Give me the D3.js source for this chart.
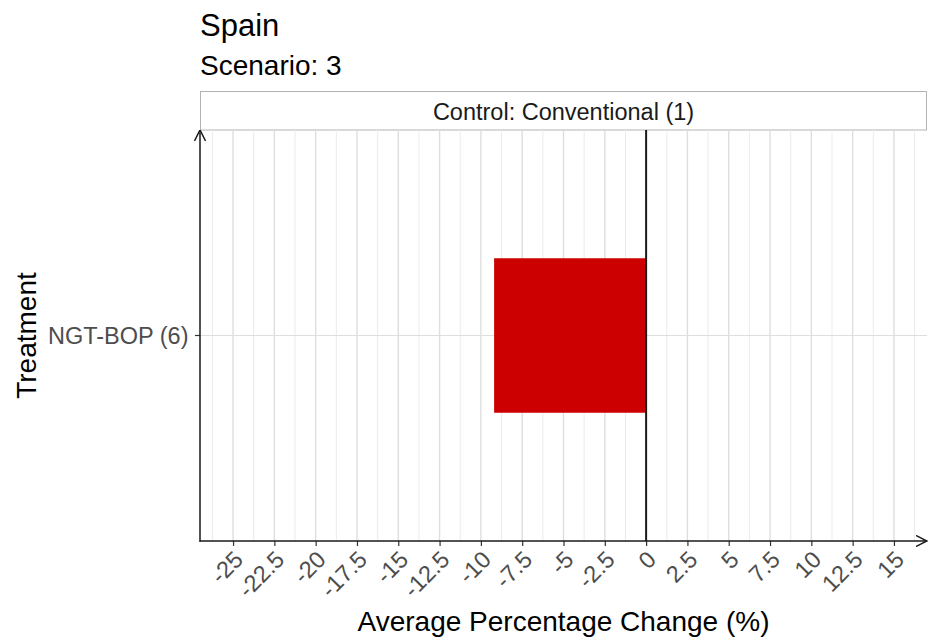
<!DOCTYPE html>
<html>
<head>
<meta charset="utf-8">
<script src="https://cdn.jsdelivr.net/npm/d3@7"></script>
<style>
  body { margin: 0; background: #fff; }
  text { font-family: "Liberation Sans", Arial, sans-serif; }
</style>
</head>
<body>
<svg id="chart" width="928" height="640"></svg>
<script>
// Chart data
const treatments = ["NGT-BOP (6)"];
const changes = [-9.2];
const xTicks = [-25, -22.5, -20, -17.5, -15, -12.5, -10, -7.5, -5, -2.5, 0, 2.5, 5, 7.5, 10, 12.5, 15];
const xMinor = [-26.25, -23.75, -21.25, -18.75, -16.25, -13.75, -11.25, -8.75, -6.25, -3.75, -1.25, 1.25, 3.75, 6.25, 8.75, 11.25, 13.75, 16.25];
const title = "Spain";
const subtitle = "Scenario: 3";
const stripLabel = "Control: Conventional (1)";

const svg = d3.select("#chart");
const panel = { left: 200, right: 927, top: 130, bottom: 541 };

const x = d3.scaleLinear().domain([-27, 17]).range([panel.left, panel.right]);
const y = d3.scaleBand().domain(treatments).range([panel.top, panel.bottom]).paddingInner(0).paddingOuter(0.83);

// Titles
svg.append("text").attr("x", 200).attr("y", 36).attr("font-size", 31).attr("fill", "#000").text(title);
svg.append("text").attr("x", 200).attr("y", 75).attr("font-size", 28).attr("fill", "#000").text(subtitle);

// Facet strip
svg.append("rect").attr("x", 200.5).attr("y", 91.5).attr("width", 726).attr("height", 38.5)
  .attr("fill", "#fff").attr("stroke", "#b3b3b3").attr("stroke-width", 1);
svg.append("text").attr("x", (panel.left + panel.right) / 2).attr("y", 120).attr("text-anchor", "middle")
  .attr("font-size", 23.5).attr("fill", "#1a1a1a").text(stripLabel);

// Gridlines
const grid = svg.append("g");
grid.selectAll("line.minor").data(xMinor).join("line").attr("class", "minor")
  .attr("x1", d => x(d)).attr("x2", d => x(d)).attr("y1", panel.top).attr("y2", panel.bottom)
  .attr("stroke", "#ebebeb").attr("stroke-width", 1);
grid.selectAll("line.major").data(xTicks).join("line").attr("class", "major")
  .attr("x1", d => x(d)).attr("x2", d => x(d)).attr("y1", panel.top).attr("y2", panel.bottom)
  .attr("stroke", "#dedede").attr("stroke-width", 1.4);
grid.selectAll("line.ymajor").data(treatments).join("line").attr("class", "ymajor")
  .attr("x1", panel.left).attr("x2", panel.right)
  .attr("y1", d => y(d) + y.bandwidth() / 2).attr("y2", d => y(d) + y.bandwidth() / 2)
  .attr("stroke", "#dedede").attr("stroke-width", 1);

// Bars
svg.selectAll("rect.bar").data(changes).join("rect").attr("class", "bar")
  .attr("x", d => x(Math.min(0, d))).attr("width", d => Math.abs(x(d) - x(0)))
  .attr("y", (d, i) => y(treatments[i])).attr("height", y.bandwidth())
  .attr("fill", "#cc0000");

// Zero reference line
svg.append("line").attr("x1", x(0)).attr("x2", x(0)).attr("y1", panel.top).attr("y2", panel.bottom)
  .attr("stroke", "#1a1a1a").attr("stroke-width", 2);

// Open arrowhead for the axis lines
const defs = svg.append("defs");
defs.append("marker").attr("id", "arrow").attr("viewBox", "0 0 12 12")
  .attr("refX", 11.5).attr("refY", 6).attr("markerWidth", 12).attr("markerHeight", 12)
  .attr("markerUnits", "userSpaceOnUse").attr("orient", "auto")
  .append("path").attr("d", "M0.5,0.5 L11.5,6 L0.5,11.5").attr("fill", "none")
  .attr("stroke", "#1a1a1a").attr("stroke-width", 1.5);

// X axis
const xAxis = svg.append("g").attr("transform", `translate(0,${panel.bottom})`)
  .call(d3.axisBottom(x).tickValues(xTicks).tickSize(5).tickSizeOuter(0).tickFormat(d => String(d)));
xAxis.select(".domain").remove();
xAxis.selectAll(".tick line").attr("stroke", "#333").attr("stroke-width", 1.2);
xAxis.selectAll(".tick text")
  .attr("font-size", 23.5).attr("fill", "#4d4d4d")
  .attr("text-anchor", "end").attr("dy", null).attr("y", 0)
  .attr("transform", "translate(11,20) rotate(-45)");
svg.append("line").attr("x1", panel.left - 0.5).attr("x2", 927).attr("y1", panel.bottom).attr("y2", panel.bottom)
  .attr("stroke", "#1a1a1a").attr("stroke-width", 1.5).attr("marker-end", "url(#arrow)");

// Y axis
const yAxis = svg.append("g").attr("transform", `translate(${panel.left},0)`)
  .call(d3.axisLeft(y).tickSize(5).tickSizeOuter(0));
yAxis.select(".domain").remove();
yAxis.selectAll(".tick line").attr("stroke", "#333").attr("stroke-width", 1.2);
yAxis.selectAll(".tick text").attr("font-size", 23.5).attr("fill", "#4d4d4d").attr("x", -11.5).attr("dy", "0.36em");
svg.append("line").attr("x1", panel.left).attr("x2", panel.left).attr("y1", panel.bottom + 0.75).attr("y2", panel.top)
  .attr("stroke", "#1a1a1a").attr("stroke-width", 1.5).attr("marker-end", "url(#arrow)");

// Axis titles
svg.append("text").attr("x", (panel.left + panel.right) / 2).attr("y", 630.5).attr("text-anchor", "middle")
  .attr("font-size", 28).attr("fill", "#000").text("Average Percentage Change (%)");
svg.append("text").attr("transform", `translate(36,${(panel.top + panel.bottom) / 2}) rotate(-90)`)
  .attr("text-anchor", "middle").attr("font-size", 28).attr("fill", "#000").text("Treatment");
</script>
</body>
</html>
